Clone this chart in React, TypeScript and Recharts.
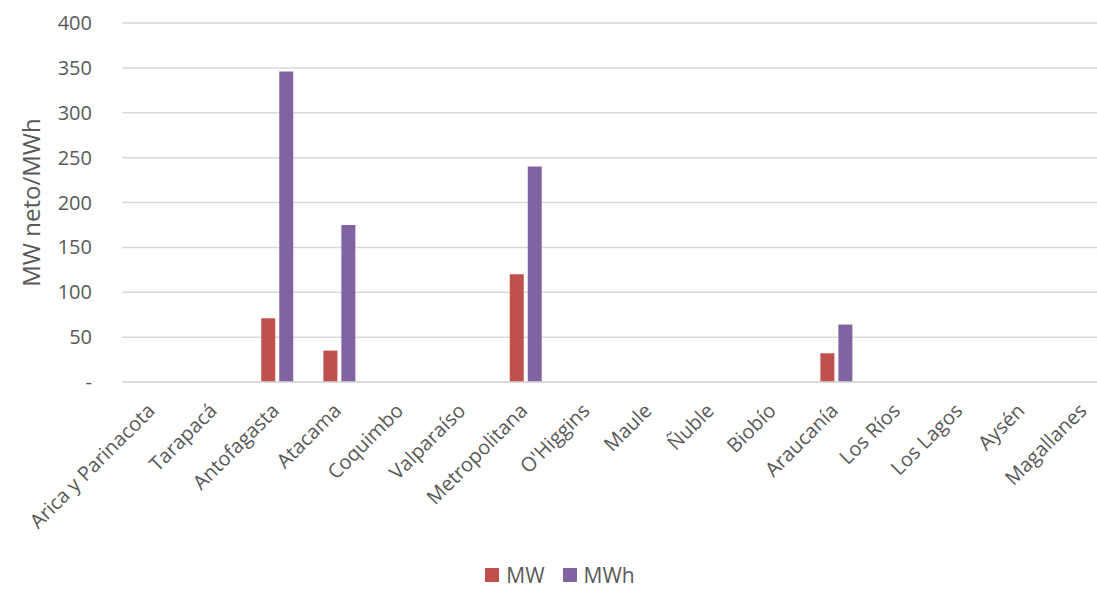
import React from 'react';
import { BarChart, Bar, XAxis, YAxis, CartesianGrid, Legend, Label } from 'recharts';

const categories = [
  'Arica y Parinacota', 'Tarapacá', 'Antofagasta', 'Atacama', 'Coquimbo', 'Valparaíso',
  'Metropolitana', "O'Higgins", 'Maule', 'Ñuble', 'Biobío', 'Araucanía', 'Los Ríos',
  'Los Lagos', 'Aysén', 'Magallanes',
];
const mwValues = [0, 0, 71, 35, 0, 0, 120, 0, 0, 0, 0, 32, 0, 0, 0, 0];
const mwhValues = [0, 0, 346, 175, 0, 0, 240, 0, 0, 0, 0, 64, 0, 0, 0, 0];
const yTicks = [0, 50, 100, 150, 200, 250, 300, 350, 400];
const seriesNames = ['MW', 'MWh'];
const seriesColors = ['#C0504D', '#8064A2'];

const data = categories.map((name, i) => ({ name, MW: mwValues[i], MWh: mwhValues[i] }));

const FONT = '"Open Sans", sans-serif';
const TEXT = '#595959';

const XTick = (props: any) => {
  const { x, y, payload } = props;
  const ax = x + 3;
  const ay = y + 22;
  return (
    <text
      x={ax}
      y={ay}
      transform={`rotate(-45, ${ax}, ${ay})`}
      textAnchor="end"
      fontSize={20}
      fontFamily={FONT}
      fill={TEXT}
    >
      {payload.value}
    </text>
  );
};

const YLabel = (props: any) => {
  const vb = props.viewBox || { x: 0, y: 23, width: 122, height: 359 };
  const cx = 30;
  const cy = vb.y + vb.height / 2;
  return (
    <text
      x={cx}
      y={cy}
      transform={`rotate(-90, ${cx}, ${cy})`}
      textAnchor="middle"
      dominantBaseline="central"
      fontSize={24}
      fontFamily={FONT}
      fill={TEXT}
    >
      MW neto/MWh
    </text>
  );
};

const LegendContent = () => (
  <div
    style={{
      display: 'flex',
      justifyContent: 'center',
      alignItems: 'center',
      height: 28,
      lineHeight: '28px',
      fontFamily: FONT,
      fontSize: 21,
      color: TEXT,
      paddingLeft: 4,
    }}
  >
    {seriesNames.map((n, i) => (
      <div key={n} style={{ display: 'flex', alignItems: 'center', marginLeft: i === 0 ? 0 : 18 }}>
        <span style={{ display: 'inline-block', width: 14, height: 14, background: seriesColors[i], marginRight: 7 }} />
        <span>{n}</span>
      </div>
    ))}
  </div>
);

export default function App() {
  return (
    <div
      style={{
        position: 'absolute',
        left: 0,
        top: 0,
        width: 1097,
        height: 590,
        overflow: 'hidden',
        background: '#ffffff',
      }}
    >
      <BarChart
        width={1130}
        height={590}
        data={data}
        margin={{ top: 23, right: 14, left: 0, bottom: 1 }}
        barSize={14}
        barGap={4}
      >
        <CartesianGrid vertical={false} stroke="#d9d9d9" strokeWidth={1.5} />
        <XAxis
          dataKey="name"
          interval={0}
          height={179}
          tickLine={false}
          axisLine={{ stroke: '#d9d9d9', strokeWidth: 1.5 }}
          tick={<XTick />}
        />
        <YAxis
          width={122}
          domain={[0, 400]}
          ticks={yTicks}
          axisLine={false}
          tickLine={false}
          tickMargin={24}
          tick={{ fontSize: 20, fontFamily: FONT, fill: TEXT }}
          tickFormatter={(v: number) => (v === 0 ? '-' : String(v))}
        >
          <Label content={<YLabel />} />
        </YAxis>
        <Legend verticalAlign="bottom" align="center" content={<LegendContent />} />
        <Bar dataKey="MW" name="MW" fill={seriesColors[0]} isAnimationActive={false} />
        <Bar dataKey="MWh" name="MWh" fill={seriesColors[1]} isAnimationActive={false} />
      </BarChart>
    </div>
  );
}
